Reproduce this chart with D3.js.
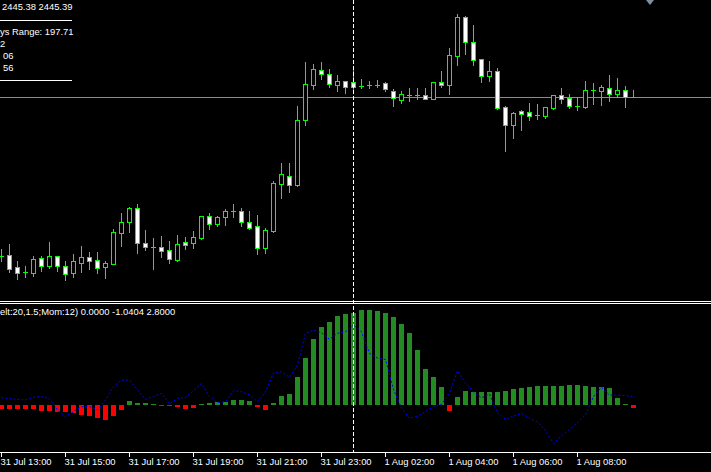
<!DOCTYPE html>
<html><head><meta charset="utf-8">
<script src="https://cdn.jsdelivr.net/npm/d3@7/dist/d3.min.js"></script>
<style>html,body{margin:0;padding:0;background:#000;overflow:hidden}svg{display:block}</style>
</head><body>
<script>
// ---- data (M15 bars) ----
const openV = [2413.64,2413.84,2411.38,2410.38,2410.30,2413.18,2411.70,2413.58,2411.70,2410.30,
2412.30,2413.38,2412.78,2411.38,2412.10,2418.30,2420.38,2423.18,2416.18,2415.44,
2415.38,2414.78,2412.84,2416.44,2416.30,2417.30,2421.58,2420.10,2421.50,2422.58,
2422.64,2420.44,2419.64,2415.30,2418.64,2428.10,2429.64,2427.90,2440.84,2447.90,
2450.78,2449.98,2447.90,2448.58,2448.44,2447.70,2447.90,2447.90,2448.18,2446.70,
2444.84,2445.90,2445.78,2445.78,2445.10,2448.44,2447.90,2453.70,2461.44,2456.44,
2453.04,2449.64,2450.64,2443.50,2439.90,2442.64,2442.44,2441.78,2441.64,2443.30,
2445.78,2445.24,2443.70,2443.50,2446.78,2446.70,2447.18,2446.10,2446.78,2445.38];
const highV = [2415.04,2416.04,2412.64,2411.64,2413.64,2413.64,2416.44,2413.64,2412.64,2414.04,
2415.64,2414.44,2414.44,2412.58,2418.98,2422.24,2423.38,2424.04,2418.84,2417.18,
2417.64,2416.64,2417.84,2417.44,2418.64,2421.58,2422.24,2421.64,2423.04,2424.04,
2423.18,2422.64,2421.84,2419.18,2428.58,2432.18,2432.24,2443.64,2452.38,2452.04,
2452.38,2451.04,2449.78,2448.70,2450.84,2448.98,2448.58,2448.84,2448.44,2446.98,
2446.64,2447.24,2447.24,2447.24,2448.50,2450.64,2455.24,2462.04,2461.64,2459.84,
2453.04,2452.64,2451.24,2443.64,2442.50,2442.84,2444.24,2444.04,2443.44,2445.84,
2447.24,2446.04,2445.38,2448.64,2448.24,2447.84,2449.84,2449.24,2447.58,2446.84];
const lowV = [2412.70,2410.50,2409.04,2409.38,2409.64,2410.64,2411.24,2410.70,2408.84,2409.38,
2410.44,2411.04,2410.30,2409.30,2412.10,2415.70,2418.44,2414.30,2414.84,2411.04,
2413.50,2412.30,2412.64,2415.10,2415.24,2417.10,2419.04,2419.64,2419.90,2421.50,
2419.70,2419.04,2414.10,2414.30,2418.50,2425.30,2426.44,2427.64,2439.84,2447.10,
2448.98,2447.50,2446.70,2446.18,2446.84,2447.30,2447.30,2447.50,2446.70,2443.64,
2444.18,2444.64,2445.10,2444.98,2445.10,2447.50,2446.04,2451.84,2454.04,2451.84,
2448.44,2448.64,2443.04,2434.64,2437.24,2438.84,2440.84,2440.98,2441.24,2443.10,
2444.30,2443.24,2442.84,2443.30,2444.10,2443.90,2444.70,2445.50,2443.50,2445.38];
const closeV = [2413.66,2411.04,2410.30,2410.40,2413.04,2411.70,2413.58,2411.70,2410.10,2412.58,
2413.38,2412.70,2411.30,2412.18,2418.38,2420.38,2423.18,2416.18,2415.38,2415.44,
2414.58,2412.98,2415.98,2415.90,2417.38,2421.58,2420.10,2421.44,2422.64,2422.58,
2420.38,2419.30,2415.30,2418.78,2428.24,2430.04,2427.78,2440.84,2447.98,2450.98,
2450.10,2447.98,2448.58,2447.50,2447.50,2447.70,2447.90,2447.90,2446.98,2445.18,
2446.04,2445.90,2445.78,2445.10,2448.44,2447.90,2453.84,2461.44,2456.50,2452.90,
2449.70,2450.70,2443.24,2439.90,2442.30,2442.10,2441.64,2441.78,2443.44,2445.84,
2445.10,2443.70,2443.70,2446.84,2446.78,2447.38,2446.10,2446.78,2445.38,2445.38];
// squeeze histogram
const histV = [-1.33,-1.44,-1.33,-1.33,-1.33,-1.9,-2.0,-2.2,-2.2,-2.8,
-3.3,-3.7,-4.2,-5.0,-3.7,-1.7,1.44,0.67,0.67,0.33,
-0.33,-0.33,-0.55,-1.33,-0.9,0.33,0.67,1.0,1.0,1.67,
1.67,1.33,-0.55,-1.67,0.67,3.0,3.67,9.33,15.67,22.0,
26.0,27.67,29.67,30.33,30.67,31.67,31.67,31.33,30.67,29.33,
27.0,24.0,18.33,12.0,9.33,6.0,-2.0,2.67,4.67,4.33,
4.33,4.33,4.33,4.67,5.33,5.67,6.0,6.33,6.33,6.33,
6.33,6.67,6.67,6.33,6.0,6.0,5.67,2.33,0.33,-1.04];
// momentum line
const momV = [2.44,2.1,1.9,1.67,2.56,2.8,2.1,-1.67,-3.9,-2.2,
-0.55,-0.55,-1.67,1.67,6.1,8.3,8.3,5.0,1.9,2.8,
3.9,0.33,2.2,2.56,4.8,7.2,2.8,0.8,1.1,4.8,
4.4,3.3,1.1,4.4,10.6,11.1,9.2,13.3,23.9,25.0,
24.1,21.9,23.9,24.4,26.7,24.4,17.2,15.6,15.2,5.2,
-1.1,-4.4,-3.7,-2.2,-0.55,0.2,4.1,11.4,7.4,4.4,
2.4,3.6,-2.6,-4.8,-3.7,-2.8,-4.4,-5.6,-8.6,-12.8,
-10.3,-8.1,-5.9,-3.3,2.8,5.9,3.3,3.3,3.1,2.8];
const tickLabels = ["31 Jul 13:00","31 Jul 15:00","31 Jul 17:00","31 Jul 19:00","31 Jul 21:00",
"31 Jul 23:00","1 Aug 02:00","1 Aug 04:00","1 Aug 06:00","1 Aug 08:00"];
const tickBars = [0,8,16,24,32,40,48,56,64,72];
const bidAsk = "2445.38 2445.39";
const infoLines = ["ys Range: 197.71","2","06","56"];
const indLabel = "elt:20,1.5;Mom:12) 0.0000 -1.0404 2.8000";
const markerBar = 44;

// ---- drawing ----
const W = 711, H = 472;
const svg = d3.select("body").append("svg").attr("width", W).attr("height", H)
  .style("font-family", "'Liberation Sans', Arial, sans-serif").style("font-size", "9.4px");
svg.append("rect").attr("width", W).attr("height", H).attr("fill", "#000");

const n = openV.length;
const x = d3.scaleLinear().domain([0, n - 1]).range([1, 1 + 8 * (n - 1)]);
const y = d3.scaleLinear().domain([2405.24, 2464.84]).range([298, 0]);
const ys = d3.scaleLinear().domain([-15, 35]).range([450, 300]);
const R = Math.round;

// bid line
svg.append("line").attr("x1", 0).attr("x2", W).attr("y1", R(y(closeV[n-1])) + 0.5).attr("y2", R(y(closeV[n-1])) + 0.5)
  .attr("stroke", "#8c8c8c").attr("stroke-width", 1);

// candles
const cg = svg.append("g").attr("shape-rendering", "crispEdges");
d3.range(n).forEach(i => {
  const cx = R(x(i));
  const hy = R(y(highV[i])), ly = R(y(lowV[i]));
  cg.append("rect").attr("x", cx).attr("y", hy).attr("width", 1).attr("height", Math.max(1, ly - hy + 1)).attr("fill", "#00ff00");
  const top = R(y(Math.max(openV[i], closeV[i]))), bot = R(y(Math.min(openV[i], closeV[i])));
  if (bot - top < 1) {
    cg.append("rect").attr("x", cx - 2).attr("y", top).attr("width", 5).attr("height", 1).attr("fill", "#00ff00");
  } else {
    cg.append("rect").attr("x", cx - 2).attr("y", top).attr("width", 5).attr("height", bot - top + 1).attr("fill", "#00ff00");
    if (bot - top > 1)
      cg.append("rect").attr("x", cx - 1).attr("y", top + 1).attr("width", 3).attr("height", bot - top - 1)
        .attr("fill", closeV[i] < openV[i] ? "#ffffff" : "#000000");
  }
});

// top-left info text
svg.append("text").attr("x", 2).attr("y", 10).attr("fill", "#fff").text(bidAsk);
[20, 80].forEach(yy => svg.append("line").attr("x1", 0).attr("x2", 72).attr("y1", yy + 0.5).attr("y2", yy + 0.5)
  .attr("stroke", "#fff").attr("stroke-width", 1));
const infoY = [35, 47, 59, 71], infoX = [0, 0, 3, 3];
infoLines.forEach((t, k) => svg.append("text").attr("x", infoX[k]).attr("y", infoY[k]).attr("fill", "#fff").text(t));

// small marker top right
svg.append("path").attr("d", "M646,0 L654,0 L650,5 Z").attr("fill", "#7f8fa0");

// window separators
[301, 303].forEach(yy => svg.append("line").attr("x1", 0).attr("x2", W).attr("y1", yy + 0.5).attr("y2", yy + 0.5)
  .attr("stroke", "#fff").attr("stroke-width", 1));

// histogram
const hg = svg.append("g").attr("shape-rendering", "crispEdges");
const z = R(ys(0));
histV.forEach((v, i) => {
  const yy = R(ys(v));
  hg.append("rect").attr("x", R(x(i)) - 2).attr("width", 5)
    .attr("y", v >= 0 ? yy : z).attr("height", Math.max(1, Math.abs(yy - z)))
    .attr("fill", v >= 0 ? "#228b22" : "#ff0000");
});

// momentum dotted line
svg.append("path").datum(momV)
  .attr("d", d3.line().x((d, i) => R(x(i)) + 0.5).y(d => ys(d)))
  .attr("fill", "none").attr("stroke", "#0000ff").attr("stroke-width", 1).attr("stroke-dasharray", "2,2");

svg.append("text").attr("x", 0).attr("y", 315).attr("fill", "#fff").text(indLabel);

// vertical dashed marker
svg.append("line").attr("x1", R(x(markerBar)) + 0.5).attr("x2", R(x(markerBar)) + 0.5).attr("y1", 0).attr("y2", 452)
  .attr("stroke", "#fff").attr("stroke-width", 1).attr("stroke-dasharray", "4,2");

// time axis
svg.append("line").attr("x1", 0).attr("x2", W).attr("y1", 452.5).attr("y2", 452.5).attr("stroke", "#fff");
const ag = svg.append("g");
tickBars.forEach((b, k) => {
  const tx = R(x(b)) + 0.5;
  ag.append("line").attr("x1", tx).attr("x2", tx).attr("y1", 452).attr("y2", 457).attr("stroke", "#fff");
  ag.append("text").attr("x", tx - 1).attr("y", 465).attr("fill", "#fff").text(tickLabels[k]);
});
</script>
</body></html>
